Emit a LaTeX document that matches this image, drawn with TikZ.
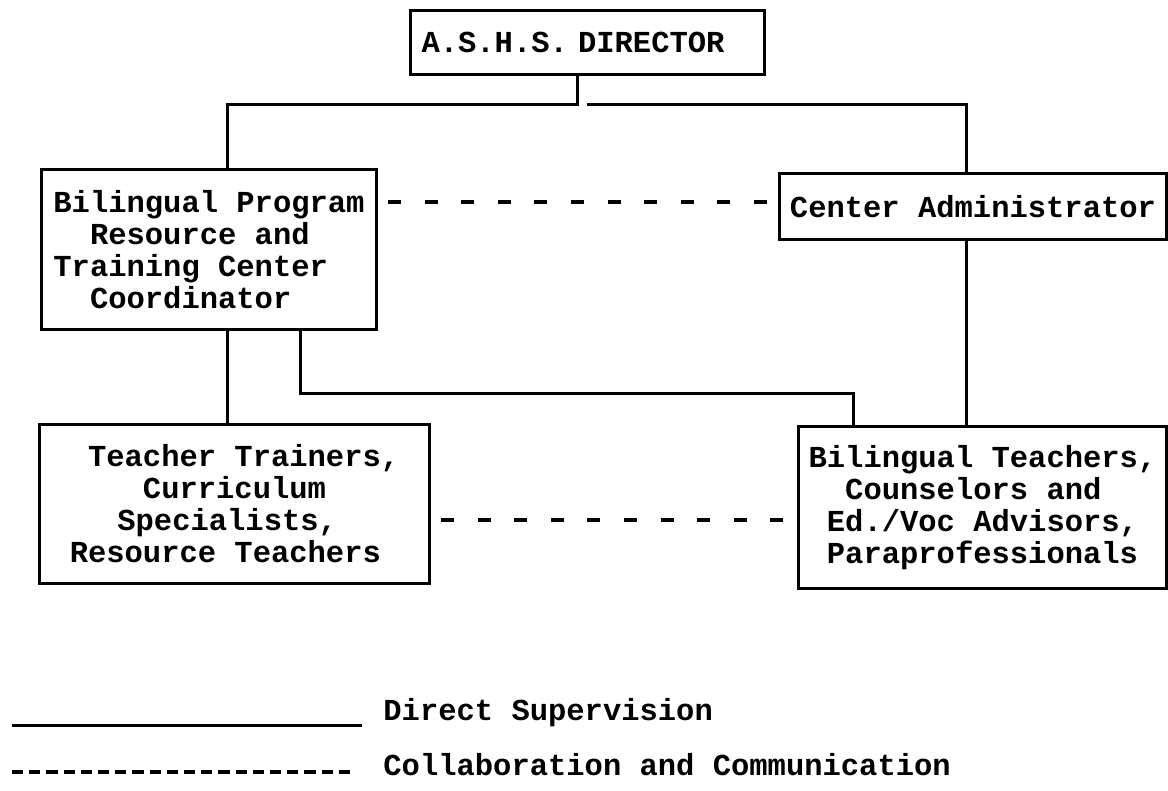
\documentclass[tikz,border=0pt]{standalone}
\usepackage{fontspec}
\setmainfont{Liberation Mono}
\usetikzlibrary{positioning,calc}

\newcommand{\pad}[1]{\hspace*{#1\dimexpr0.6em\relax}}

\tikzset{
  unitbox/.style={draw, line width=1.5pt, anchor=north west, align=left,
    inner ysep=0pt, font=\bfseries\fontsize{15.25}{16}\selectfont},
  legtext/.style={anchor=base west, inner sep=0pt,
    font=\bfseries\fontsize{15.25}{16}\selectfont},
  super/.style={line width=1.5pt},
  collab/.style={line width=1.7pt, dash pattern=on 6.5pt off 11.8pt, dash phase=13.3pt},
  legdash/.style={line width=1.9pt, dash pattern=on 5.6pt off 3pt},
}

\begin{document}
\begin{tikzpicture}[x=0.5pt,y=-0.5pt]
\useasboundingbox (0,0) rectangle (1168,791);

% boxes
\node[unitbox, minimum width=177pt, minimum height=32pt, inner xsep=5.5pt, text width=166pt]
  (dir) at (409,9) {A.S.H.S. DIRECTOR};
\node[unitbox, minimum width=167.5pt, minimum height=80pt]
  (coord) at (40,168) {Bilingual Program\\\pad{2}Resource and\\Training Center\\\pad{2}Coordinator};
\node[unitbox, align=center, minimum width=193.5pt, minimum height=33pt]
  (admin) at (778,172) {Center Administrator};
\node[unitbox, minimum width=195pt, minimum height=79.5pt]
  (trainers) at (38,423) {\pad{1}Teacher Trainers,\\\pad{4}Curriculum\\\pad{2.6}Specialists,\\Resource Teachers};
\node[unitbox, minimum width=184pt, minimum height=81pt]
  (teachers) at (797,425) {Bilingual Teachers,\\\pad{2}Counselors and\\\pad{1}Ed./Voc Advisors,\\\pad{1}Paraprofessionals};

% junctions
\coordinate (jt) at (577,105);
\coordinate (jr) at (587,105);
\coordinate (cl) at (227,0);
\coordinate (cr) at (966,0);
\coordinate (cm) at (300,394);
\coordinate (ct) at (853,0);
\coordinate (dt) at (0,202);
\coordinate (db) at (0,520);

% direct supervision
\draw[super] (dir.south -| jt) -- (jt) -| (coord.north -| cl);
\draw[super] (jr) -| (admin.north -| cr);
\draw[super] (coord.south -| cl) -- (trainers.north -| cl);
\draw[super] (coord.south -| cm) -- (cm) -| (teachers.north -| ct);
\draw[super] (admin.south -| cr) -- (teachers.north -| cr);

% collaboration
\draw[collab] (coord.east |- dt) -- (admin.west |- dt);
\draw[collab] (trainers.east |- db) -- (teachers.west |- db);

% legend
\coordinate (l1) at (12,725);
\coordinate (l2) at (362,725);
\coordinate (l3) at (12,772);
\coordinate (l4) at (355,772);
\draw[super] (l1) -- (l2);
\draw[legdash] (l3) -- (l4);
\node[legtext] (lsup) at (383,720) {Direct Supervision};
\node[legtext] (lcol) at (383,775) {Collaboration and Communication};
\end{tikzpicture}
\end{document}
